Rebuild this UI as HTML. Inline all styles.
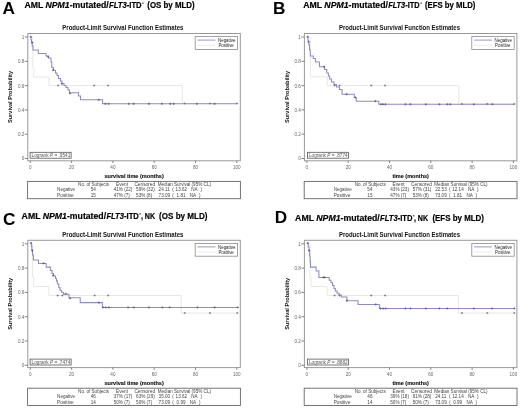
<!DOCTYPE html>
<html><head><meta charset="utf-8"><style>
html,body{margin:0;padding:0;background:#fff;}
svg{display:block;font-family:"Liberation Sans", sans-serif;will-change:transform;filter:blur(0.35px);}
</style></head><body>
<svg width="520" height="408" viewBox="0 0 520 408">
<rect width="520" height="408" fill="#fff"/>
<text x="2.6" y="14.1" font-size="17.2" font-weight="bold">A</text>
<text x="24.5" y="7.9" font-size="8.2" font-weight="bold" stroke="#000" stroke-width="0.18" textLength="84.2" lengthAdjust="spacingAndGlyphs">AML <tspan font-style="italic">NPM1</tspan>-mutated/</text>
<text x="109" y="7.9" font-size="8.2" font-weight="bold" stroke="#000" stroke-width="0.18" textLength="32.6" lengthAdjust="spacingAndGlyphs"><tspan font-style="italic">FLT3</tspan>-ITD</text>
<rect x="142.1" y="2.7" width="1.5" height="0.9" fill="#000"/>
<text x="147.3" y="7.9" font-size="8.2" font-weight="bold" stroke="#000" stroke-width="0.18" textLength="47.3" lengthAdjust="spacingAndGlyphs">(OS by MLD)</text>
<text x="272.9" y="13.7" font-size="17.2" font-weight="bold">B</text>
<text x="303.2" y="7.9" font-size="8.2" font-weight="bold" stroke="#000" stroke-width="0.18" textLength="84.7" lengthAdjust="spacingAndGlyphs">AML <tspan font-style="italic">NPM1</tspan>-mutated/</text>
<text x="388.2" y="7.9" font-size="8.2" font-weight="bold" stroke="#000" stroke-width="0.18" textLength="31.3" lengthAdjust="spacingAndGlyphs"><tspan font-style="italic">FLT3</tspan>-ITD</text>
<rect x="420.4" y="2.7" width="1.5" height="0.9" fill="#000"/>
<text x="425" y="7.9" font-size="8.2" font-weight="bold" stroke="#000" stroke-width="0.18" textLength="50.4" lengthAdjust="spacingAndGlyphs">(EFS by MLD)</text>
<text x="2.9" y="225.2" font-size="17.2" font-weight="bold">C</text>
<text x="21.6" y="218.7" font-size="8.2" font-weight="bold" stroke="#000" stroke-width="0.18" textLength="84.5" lengthAdjust="spacingAndGlyphs">AML <tspan font-style="italic">NPM1</tspan>-mutated/</text>
<text x="106.4" y="218.7" font-size="8.2" font-weight="bold" stroke="#000" stroke-width="0.18" textLength="32.4" lengthAdjust="spacingAndGlyphs"><tspan font-style="italic">FLT3</tspan>-ITD</text>
<rect x="139.3" y="213.5" width="1.5" height="0.9" fill="#000"/>
<text x="140.9" y="218.7" font-size="8.2" font-weight="bold" stroke="#000" stroke-width="0.18" textLength="14.3" lengthAdjust="spacingAndGlyphs">, NK</text>
<text x="159.1" y="218.7" font-size="8.2" font-weight="bold" stroke="#000" stroke-width="0.18" textLength="48.4" lengthAdjust="spacingAndGlyphs">(OS by MLD)</text>
<text x="274.65" y="223.2" font-size="17.2" font-weight="bold">D</text>
<text x="295.1" y="220.6" font-size="8.2" font-weight="bold" stroke="#000" stroke-width="0.18" textLength="84.7" lengthAdjust="spacingAndGlyphs">AML <tspan font-style="italic">NPM1</tspan>-mutated/</text>
<text x="380.1" y="220.6" font-size="8.2" font-weight="bold" stroke="#000" stroke-width="0.18" textLength="32.4" lengthAdjust="spacingAndGlyphs"><tspan font-style="italic">FLT3</tspan>-ITD</text>
<rect x="412.9" y="215.4" width="1.5" height="0.9" fill="#000"/>
<text x="413.9" y="220.6" font-size="8.2" font-weight="bold" stroke="#000" stroke-width="0.18" textLength="14.3" lengthAdjust="spacingAndGlyphs">, NK</text>
<text x="432.4" y="220.6" font-size="8.2" font-weight="bold" stroke="#000" stroke-width="0.18" textLength="51.6" lengthAdjust="spacingAndGlyphs">(EFS by MLD)</text>
<rect x="27.8" y="33.5" width="212.5" height="127.3" fill="none" stroke="#999" stroke-width="1"/>
<path d="M24.8 158.5H27.8" stroke="#666" stroke-width="0.8"/>
<text x="24.3" y="160.4" font-size="4.6" text-anchor="end" fill="#666" >0</text>
<path d="M24.8 134.2H27.8" stroke="#666" stroke-width="0.8"/>
<text x="24.3" y="136.1" font-size="4.6" text-anchor="end" fill="#666" >0.2</text>
<path d="M24.8 109.9H27.8" stroke="#666" stroke-width="0.8"/>
<text x="24.3" y="111.8" font-size="4.6" text-anchor="end" fill="#666" >0.4</text>
<path d="M24.8 85.6H27.8" stroke="#666" stroke-width="0.8"/>
<text x="24.3" y="87.5" font-size="4.6" text-anchor="end" fill="#666" >0.6</text>
<path d="M24.8 61.3H27.8" stroke="#666" stroke-width="0.8"/>
<text x="24.3" y="63.2" font-size="4.6" text-anchor="end" fill="#666" >0.8</text>
<path d="M24.8 37H27.8" stroke="#666" stroke-width="0.8"/>
<text x="24.3" y="38.9" font-size="4.6" text-anchor="end" fill="#666" >1</text>
<path d="M30.3 160.8V163" stroke="#666" stroke-width="0.8"/>
<text x="30.3" y="169.2" font-size="4.6" text-anchor="middle" fill="#666" >0</text>
<path d="M71.6 160.8V163" stroke="#666" stroke-width="0.8"/>
<text x="71.6" y="169.2" font-size="4.6" text-anchor="middle" fill="#666" >20</text>
<path d="M112.9 160.8V163" stroke="#666" stroke-width="0.8"/>
<text x="112.9" y="169.2" font-size="4.6" text-anchor="middle" fill="#666" >40</text>
<path d="M154.2 160.8V163" stroke="#666" stroke-width="0.8"/>
<text x="154.2" y="169.2" font-size="4.6" text-anchor="middle" fill="#666" >60</text>
<path d="M195.5 160.8V163" stroke="#666" stroke-width="0.8"/>
<text x="195.5" y="169.2" font-size="4.6" text-anchor="middle" fill="#666" >80</text>
<path d="M236.8 160.8V163" stroke="#666" stroke-width="0.8"/>
<text x="236.8" y="169.2" font-size="4.6" text-anchor="middle" fill="#666" >100</text>
<text transform="translate(12.1 97) rotate(-90)" x="0" y="0" font-size="5.6" font-weight="bold" text-anchor="middle" textLength="52" lengthAdjust="spacingAndGlyphs" fill="#111">Survival Probability</text>
<text x="134.1" y="178.3" font-size="6.2" font-weight="bold" text-anchor="middle" textLength="59.3" lengthAdjust="spacingAndGlyphs" fill="#111" stroke="#111" stroke-width="0.15">survival time (months)</text>
<text x="62.3" y="29.8" font-size="6.4" font-weight="bold" textLength="121.1" lengthAdjust="spacingAndGlyphs" fill="#111" >Product-Limit Survival Function Estimates</text>
<rect x="195.2" y="36.6" width="42.4" height="12.8" fill="#fff" stroke="#8a8a8a" stroke-width="0.8"/>
<path d="M197.5 40.1H215.4" stroke="#8c8cc2" stroke-width="0.9"/>
<path d="M197.5 45.2H215.4" stroke="#e8e8e4" stroke-width="0.9"/>
<text x="218" y="41.7" font-size="4.6" textLength="17.4" lengthAdjust="spacingAndGlyphs" fill="#222" >Negative</text>
<text x="218.4" y="47.1" font-size="4.6" textLength="15.4" lengthAdjust="spacingAndGlyphs" fill="#222" >Positive</text>
<path d="M30.5 37 L32.7 37 L32.7 68 L33.8 68 L33.8 77 L48.9 77 L48.9 85.5 L182.3 85.5 L182.3 103.5 L237 103.5" fill="none" stroke="#e8e8e4" stroke-width="1" />
<path d="M30.5 37 L31 37 L31 40 L31.5 40 L31.5 43 L32.2 43 L32.2 46 L33 46 L33 50 L38.3 50 L38.3 53.4 L46.1 53.4 L46.1 56 L48.5 56 L48.5 58 L51 58 L51 62 L51.8 62 L51.8 67.5 L53.5 67.5 L53.5 70.5 L55.5 70.5 L55.5 73 L57 73 L57 75.5 L58.5 75.5 L58.5 78.5 L60.5 78.5 L60.5 81 L62 81 L62 83.5 L64 83.5 L64 85.5 L66 85.5 L66 87.5 L68 87.5 L68 90 L69.5 90 L69.5 92.8 L78.5 92.8 L78.5 96 L80.5 96 L80.5 99.8 L102.6 99.8 L102.6 103.8 L237 103.8" fill="none" stroke="#8c8cc2" stroke-width="1.05" />
<path d="M57 85.5h2.2M58.1 84.4v2.2M93.1 85.5h2.2M94.2 84.4v2.2M107 85.5h2.2M108.1 84.4v2.2M183.5 103.5h2.2M184.6 102.4v2.2M208.9 103.5h2.2M210 102.4v2.2M235.9 103.5h2.2M237 102.4v2.2" stroke="#707070" stroke-width="0.7" fill="none"/>
<path d="M29.7 36.8h2.2M30.8 35.7v2.2M31.2 42.5h2.2M32.3 41.4v2.2M47 56.8h2.2M48.1 55.7v2.2M51.9 70h2.2M53 68.9v2.2M60.7 83.8h2.2M61.8 82.7v2.2M68.9 93.3h2.2M70 92.2v2.2M97.7 99.8h2.2M98.8 98.7v2.2M104.3 103.8h2.2M105.4 102.7v2.2M107.6 103.8h2.2M108.7 102.7v2.2M127.7 103.8h2.2M128.8 102.7v2.2M132.6 103.8h2.2M133.7 102.7v2.2M147.9 103.8h2.2M149 102.7v2.2M160.8 103.8h2.2M161.9 102.7v2.2M169.1 103.8h2.2M170.2 102.7v2.2M172.4 103.8h2.2M173.5 102.7v2.2M195.8 103.8h2.2M196.9 102.7v2.2M213.5 103.8h2.2M214.6 102.7v2.2" stroke="#50509a" stroke-width="0.7" fill="none"/>
<rect x="30.1" y="152.3" width="41" height="5.9" fill="#fff" stroke="#555" stroke-width="0.8"/>
<text x="31.5" y="156.9" font-size="4.6" textLength="38.8" lengthAdjust="spacingAndGlyphs" fill="#555">Logrank <tspan font-style="italic">P</tspan> = .9541</text>
<rect x="27.6" y="181.4" width="212.8" height="17.3" fill="none" stroke="#666" stroke-width="0.9"/>
<text x="78.1" y="185.9" font-size="4.6" textLength="31" lengthAdjust="spacingAndGlyphs" fill="#444" >No. of Subjects</text>
<text x="116" y="185.9" font-size="4.6" textLength="12" lengthAdjust="spacingAndGlyphs" fill="#444" >Event</text>
<text x="134.4" y="185.9" font-size="4.6" textLength="20.8" lengthAdjust="spacingAndGlyphs" fill="#444" >Censored</text>
<text x="157.7" y="185.9" font-size="4.6" textLength="53.3" lengthAdjust="spacingAndGlyphs" fill="#444" >Median Survival (95% CL)</text>
<text x="57.1" y="191.4" font-size="4.6" textLength="18" lengthAdjust="spacingAndGlyphs" fill="#444" >Negative</text>
<text x="93.3" y="191.4" font-size="4.6" text-anchor="middle" fill="#444" >54</text>
<text x="113.7" y="191.4" font-size="4.6" fill="#444" >41% (22)</text>
<text x="136.1" y="191.4" font-size="4.6" fill="#444" >59% (32)</text>
<text x="158.6" y="191.4" font-size="4.6" fill="#444" >24.11</text>
<text x="172.3" y="191.4" font-size="4.6" fill="#444" >(</text>
<text x="175.6" y="191.4" font-size="4.6" fill="#444" >13.62</text>
<text x="191.3" y="191.4" font-size="4.6" fill="#444" >NA</text>
<text x="200.5" y="191.4" font-size="4.6" fill="#444" >)</text>
<text x="57.1" y="196.7" font-size="4.6" textLength="16.6" lengthAdjust="spacingAndGlyphs" fill="#444" >Positive</text>
<text x="93.3" y="196.7" font-size="4.6" text-anchor="middle" fill="#444" >15</text>
<text x="113.7" y="196.7" font-size="4.6" fill="#444" >47% (7)</text>
<text x="136.1" y="196.7" font-size="4.6" fill="#444" >53% (8)</text>
<text x="158.6" y="196.7" font-size="4.6" fill="#444" >73.09</text>
<text x="172.3" y="196.7" font-size="4.6" fill="#444" >(</text>
<text x="176.6" y="196.7" font-size="4.6" fill="#444" >1.81</text>
<text x="189.8" y="196.7" font-size="4.6" fill="#444" >NA</text>
<text x="199" y="196.7" font-size="4.6" fill="#444" >)</text>
<rect x="304.4" y="33.5" width="212.5" height="127.3" fill="none" stroke="#999" stroke-width="1"/>
<path d="M301.4 158.5H304.4" stroke="#666" stroke-width="0.8"/>
<text x="300.9" y="160.4" font-size="4.6" text-anchor="end" fill="#666" >0</text>
<path d="M301.4 134.2H304.4" stroke="#666" stroke-width="0.8"/>
<text x="300.9" y="136.1" font-size="4.6" text-anchor="end" fill="#666" >0.2</text>
<path d="M301.4 109.9H304.4" stroke="#666" stroke-width="0.8"/>
<text x="300.9" y="111.8" font-size="4.6" text-anchor="end" fill="#666" >0.4</text>
<path d="M301.4 85.6H304.4" stroke="#666" stroke-width="0.8"/>
<text x="300.9" y="87.5" font-size="4.6" text-anchor="end" fill="#666" >0.6</text>
<path d="M301.4 61.3H304.4" stroke="#666" stroke-width="0.8"/>
<text x="300.9" y="63.2" font-size="4.6" text-anchor="end" fill="#666" >0.8</text>
<path d="M301.4 37H304.4" stroke="#666" stroke-width="0.8"/>
<text x="300.9" y="38.9" font-size="4.6" text-anchor="end" fill="#666" >1</text>
<path d="M306.9 160.8V163" stroke="#666" stroke-width="0.8"/>
<text x="306.9" y="169.2" font-size="4.6" text-anchor="middle" fill="#666" >0</text>
<path d="M348.2 160.8V163" stroke="#666" stroke-width="0.8"/>
<text x="348.2" y="169.2" font-size="4.6" text-anchor="middle" fill="#666" >20</text>
<path d="M389.5 160.8V163" stroke="#666" stroke-width="0.8"/>
<text x="389.5" y="169.2" font-size="4.6" text-anchor="middle" fill="#666" >40</text>
<path d="M430.8 160.8V163" stroke="#666" stroke-width="0.8"/>
<text x="430.8" y="169.2" font-size="4.6" text-anchor="middle" fill="#666" >60</text>
<path d="M472.1 160.8V163" stroke="#666" stroke-width="0.8"/>
<text x="472.1" y="169.2" font-size="4.6" text-anchor="middle" fill="#666" >80</text>
<path d="M513.4 160.8V163" stroke="#666" stroke-width="0.8"/>
<text x="513.4" y="169.2" font-size="4.6" text-anchor="middle" fill="#666" >100</text>
<text transform="translate(288.7 97) rotate(-90)" x="0" y="0" font-size="5.6" font-weight="bold" text-anchor="middle" textLength="52" lengthAdjust="spacingAndGlyphs" fill="#111">Survival Probability</text>
<text x="410.7" y="178.3" font-size="6.2" font-weight="bold" text-anchor="middle" textLength="36.5" lengthAdjust="spacingAndGlyphs" fill="#111" stroke="#111" stroke-width="0.15">time (months)</text>
<text x="338.9" y="29.8" font-size="6.4" font-weight="bold" textLength="121.1" lengthAdjust="spacingAndGlyphs" fill="#111" >Product-Limit Survival Function Estimates</text>
<rect x="471.8" y="36.6" width="42.4" height="12.8" fill="#fff" stroke="#8a8a8a" stroke-width="0.8"/>
<path d="M474.1 40.1H492" stroke="#8c8cc2" stroke-width="0.9"/>
<path d="M474.1 45.2H492" stroke="#e8e8e4" stroke-width="0.9"/>
<text x="494.6" y="41.7" font-size="4.6" textLength="17.4" lengthAdjust="spacingAndGlyphs" fill="#222" >Negative</text>
<text x="495" y="47.1" font-size="4.6" textLength="15.4" lengthAdjust="spacingAndGlyphs" fill="#222" >Positive</text>
<path d="M307.3 37 L310.3 37 L310.3 76.8 L327.3 76.8 L327.3 85.5 L458.9 85.5 L458.9 104 L514.3 104" fill="none" stroke="#e8e8e4" stroke-width="1" />
<path d="M307.5 37 L308 37 L308 41 L308.8 41 L308.8 45 L309.5 45 L309.5 50 L310.3 50 L310.3 56 L313.3 56 L313.3 58.5 L315.6 58.5 L315.6 62 L319.5 62 L319.5 66.8 L324.6 66.8 L324.6 69.5 L326.8 69.5 L326.8 73 L328.4 73 L328.4 76 L329.6 76 L329.6 79 L331.5 79 L331.5 82 L334 82 L334 84.5 L336.5 84.5 L336.5 87 L339.5 87 L339.5 89.5 L342 89.5 L342 94.2 L354.3 94.2 L354.3 97.5 L356.2 97.5 L356.2 101.2 L378.8 101.2 L378.8 104.3 L514.3 104.3" fill="none" stroke="#8c8cc2" stroke-width="1.05" />
<path d="M333.5 85.5h2.2M334.6 84.4v2.2M338.4 85.5h2.2M339.5 84.4v2.2M370.1 85.5h2.2M371.2 84.4v2.2M383.9 85.5h2.2M385 84.4v2.2M460.8 104h2.2M461.9 102.9v2.2M486.2 104h2.2M487.3 102.9v2.2M513.2 104h2.2M514.3 102.9v2.2" stroke="#707070" stroke-width="0.7" fill="none"/>
<path d="M306.5 36.8h2.2M307.6 35.7v2.2M307.5 42h2.2M308.6 40.9v2.2M322.9 66.8h2.2M324 65.7v2.2M345.5 94.2h2.2M346.6 93.1v2.2M354.3 97.5h2.2M355.4 96.4v2.2M374.3 101.2h2.2M375.4 100.1v2.2M379.7 104.3h2.2M380.8 103.2v2.2M381.9 104.3h2.2M383 103.2v2.2M384.3 104.3h2.2M385.4 103.2v2.2M404.3 104.3h2.2M405.4 103.2v2.2M409.3 104.3h2.2M410.4 103.2v2.2M424.8 104.3h2.2M425.9 103.2v2.2M438.2 104.3h2.2M439.3 103.2v2.2M446.2 104.3h2.2M447.3 103.2v2.2M449.2 104.3h2.2M450.3 103.2v2.2M472.8 104.3h2.2M473.9 103.2v2.2M491.3 104.3h2.2M492.4 103.2v2.2" stroke="#50509a" stroke-width="0.7" fill="none"/>
<rect x="307.5" y="152.3" width="41" height="5.9" fill="#fff" stroke="#555" stroke-width="0.8"/>
<text x="308.9" y="156.9" font-size="4.6" textLength="38.8" lengthAdjust="spacingAndGlyphs" fill="#555">Logrank <tspan font-style="italic">P</tspan> = .8774</text>
<rect x="304.2" y="181.4" width="212.8" height="17.3" fill="none" stroke="#666" stroke-width="0.9"/>
<text x="354.7" y="185.9" font-size="4.6" textLength="31" lengthAdjust="spacingAndGlyphs" fill="#444" >No. of Subjects</text>
<text x="392.6" y="185.9" font-size="4.6" textLength="12" lengthAdjust="spacingAndGlyphs" fill="#444" >Event</text>
<text x="411" y="185.9" font-size="4.6" textLength="20.8" lengthAdjust="spacingAndGlyphs" fill="#444" >Censored</text>
<text x="434.3" y="185.9" font-size="4.6" textLength="53.3" lengthAdjust="spacingAndGlyphs" fill="#444" >Median Survival (95% CL)</text>
<text x="333.7" y="191.4" font-size="4.6" textLength="18" lengthAdjust="spacingAndGlyphs" fill="#444" >Negative</text>
<text x="369.9" y="191.4" font-size="4.6" text-anchor="middle" fill="#444" >54</text>
<text x="390.3" y="191.4" font-size="4.6" fill="#444" >43% (23)</text>
<text x="412.7" y="191.4" font-size="4.6" fill="#444" >57% (31)</text>
<text x="435.2" y="191.4" font-size="4.6" fill="#444" >22.53</text>
<text x="448.9" y="191.4" font-size="4.6" fill="#444" >(</text>
<text x="452.2" y="191.4" font-size="4.6" fill="#444" >12.14</text>
<text x="467.9" y="191.4" font-size="4.6" fill="#444" >NA</text>
<text x="477.1" y="191.4" font-size="4.6" fill="#444" >)</text>
<text x="333.7" y="196.7" font-size="4.6" textLength="16.6" lengthAdjust="spacingAndGlyphs" fill="#444" >Positive</text>
<text x="369.9" y="196.7" font-size="4.6" text-anchor="middle" fill="#444" >15</text>
<text x="390.3" y="196.7" font-size="4.6" fill="#444" >47% (7)</text>
<text x="412.7" y="196.7" font-size="4.6" fill="#444" >53% (8)</text>
<text x="435.2" y="196.7" font-size="4.6" fill="#444" >73.09</text>
<text x="448.9" y="196.7" font-size="4.6" fill="#444" >(</text>
<text x="453.2" y="196.7" font-size="4.6" fill="#444" >1.81</text>
<text x="466.4" y="196.7" font-size="4.6" fill="#444" >NA</text>
<text x="475.6" y="196.7" font-size="4.6" fill="#444" >)</text>
<rect x="27.8" y="240.3" width="212.5" height="127.3" fill="none" stroke="#999" stroke-width="1"/>
<path d="M24.8 365.3H27.8" stroke="#666" stroke-width="0.8"/>
<text x="24.3" y="367.2" font-size="4.6" text-anchor="end" fill="#666" >0</text>
<path d="M24.8 341H27.8" stroke="#666" stroke-width="0.8"/>
<text x="24.3" y="342.9" font-size="4.6" text-anchor="end" fill="#666" >0.2</text>
<path d="M24.8 316.7H27.8" stroke="#666" stroke-width="0.8"/>
<text x="24.3" y="318.6" font-size="4.6" text-anchor="end" fill="#666" >0.4</text>
<path d="M24.8 292.4H27.8" stroke="#666" stroke-width="0.8"/>
<text x="24.3" y="294.3" font-size="4.6" text-anchor="end" fill="#666" >0.6</text>
<path d="M24.8 268.1H27.8" stroke="#666" stroke-width="0.8"/>
<text x="24.3" y="270" font-size="4.6" text-anchor="end" fill="#666" >0.8</text>
<path d="M24.8 243.8H27.8" stroke="#666" stroke-width="0.8"/>
<text x="24.3" y="245.7" font-size="4.6" text-anchor="end" fill="#666" >1</text>
<path d="M30.3 367.6V369.8" stroke="#666" stroke-width="0.8"/>
<text x="30.3" y="376" font-size="4.6" text-anchor="middle" fill="#666" >0</text>
<path d="M71.6 367.6V369.8" stroke="#666" stroke-width="0.8"/>
<text x="71.6" y="376" font-size="4.6" text-anchor="middle" fill="#666" >20</text>
<path d="M112.9 367.6V369.8" stroke="#666" stroke-width="0.8"/>
<text x="112.9" y="376" font-size="4.6" text-anchor="middle" fill="#666" >40</text>
<path d="M154.2 367.6V369.8" stroke="#666" stroke-width="0.8"/>
<text x="154.2" y="376" font-size="4.6" text-anchor="middle" fill="#666" >60</text>
<path d="M195.5 367.6V369.8" stroke="#666" stroke-width="0.8"/>
<text x="195.5" y="376" font-size="4.6" text-anchor="middle" fill="#666" >80</text>
<path d="M236.8 367.6V369.8" stroke="#666" stroke-width="0.8"/>
<text x="236.8" y="376" font-size="4.6" text-anchor="middle" fill="#666" >100</text>
<text transform="translate(12.1 303.8) rotate(-90)" x="0" y="0" font-size="5.6" font-weight="bold" text-anchor="middle" textLength="52" lengthAdjust="spacingAndGlyphs" fill="#111">Survival Probability</text>
<text x="134.1" y="385.1" font-size="6.2" font-weight="bold" text-anchor="middle" textLength="59.3" lengthAdjust="spacingAndGlyphs" fill="#111" stroke="#111" stroke-width="0.15">survival time (months)</text>
<text x="62.3" y="236.6" font-size="6.4" font-weight="bold" textLength="121.1" lengthAdjust="spacingAndGlyphs" fill="#111" >Product-Limit Survival Function Estimates</text>
<rect x="195.2" y="243.4" width="42.4" height="12.8" fill="#fff" stroke="#8a8a8a" stroke-width="0.8"/>
<path d="M197.5 246.9H215.4" stroke="#8c8cc2" stroke-width="0.9"/>
<path d="M197.5 252H215.4" stroke="#e8e8e4" stroke-width="0.9"/>
<text x="218" y="248.5" font-size="4.6" textLength="17.4" lengthAdjust="spacingAndGlyphs" fill="#222" >Negative</text>
<text x="218.4" y="253.9" font-size="4.6" textLength="15.4" lengthAdjust="spacingAndGlyphs" fill="#222" >Positive</text>
<path d="M30.9 243.4 L32.5 243.4 L32.5 277 L33.7 277 L33.7 286.5 L48.8 286.5 L48.8 295.5 L181.2 295.5 L181.2 313 L237.8 313" fill="none" stroke="#e8e8e4" stroke-width="1" />
<path d="M30.9 243 L31.3 243 L31.3 246 L31.8 246 L31.8 250 L32.5 250 L32.5 255 L33.4 255 L33.4 260 L38.4 260 L38.4 263.4 L46.2 263.4 L46.2 267.1 L50.4 267.1 L50.4 270.5 L52 270.5 L52 273.5 L53.5 273.5 L53.5 276 L55.5 276 L55.5 278.5 L56.5 278.5 L56.5 281.1 L57.4 281.1 L57.4 284 L58.8 284 L58.8 287.6 L60 287.6 L60 290.4 L61.5 290.4 L61.5 292.3 L63.5 292.3 L63.5 294.2 L69 294.2 L69 297.8 L80.2 297.8 L80.2 302.6 L102.4 302.6 L102.4 307.4 L237.8 307.4" fill="none" stroke="#8c8cc2" stroke-width="1.05" />
<path d="M56.6 295.5h2.2M57.7 294.4v2.2M61.2 295.5h2.2M62.3 294.4v2.2M93.5 295.5h2.2M94.6 294.4v2.2M107.1 295.5h2.2M108.2 294.4v2.2M183.6 313h2.2M184.7 311.9v2.2M208.9 313h2.2M210 311.9v2.2M236.2 313h2.2M237.3 311.9v2.2" stroke="#707070" stroke-width="0.7" fill="none"/>
<path d="M29.8 243h2.2M30.9 241.9v2.2M31.2 250.5h2.2M32.3 249.4v2.2M42.5 263.3h2.2M43.6 262.2v2.2M52.1 275.5h2.2M53.2 274.4v2.2M64.6 293.8h2.2M65.7 292.7v2.2M68.9 298.2h2.2M70 297.1v2.2M97.8 302.6h2.2M98.9 301.5v2.2M102 307.4h2.2M103.1 306.3v2.2M104.6 307.4h2.2M105.7 306.3v2.2M107.7 307.4h2.2M108.8 306.3v2.2M127 307.4h2.2M128.1 306.3v2.2M132.8 307.4h2.2M133.9 306.3v2.2M147.8 307.4h2.2M148.9 306.3v2.2M161.2 307.4h2.2M162.3 306.3v2.2M168.6 307.4h2.2M169.7 306.3v2.2M196.3 307.4h2.2M197.4 306.3v2.2M213.6 307.4h2.2M214.7 306.3v2.2M236.7 307.4h2.2M237.8 306.3v2.2" stroke="#50509a" stroke-width="0.7" fill="none"/>
<rect x="30.1" y="359.1" width="41" height="5.9" fill="#fff" stroke="#555" stroke-width="0.8"/>
<text x="31.5" y="363.7" font-size="4.6" textLength="38.8" lengthAdjust="spacingAndGlyphs" fill="#555">Logrank <tspan font-style="italic">P</tspan> = .7474</text>
<rect x="27.6" y="388.2" width="212.8" height="17.3" fill="none" stroke="#666" stroke-width="0.9"/>
<text x="78.1" y="392.7" font-size="4.6" textLength="31" lengthAdjust="spacingAndGlyphs" fill="#444" >No. of Subjects</text>
<text x="116" y="392.7" font-size="4.6" textLength="12" lengthAdjust="spacingAndGlyphs" fill="#444" >Event</text>
<text x="134.4" y="392.7" font-size="4.6" textLength="20.8" lengthAdjust="spacingAndGlyphs" fill="#444" >Censored</text>
<text x="157.7" y="392.7" font-size="4.6" textLength="53.3" lengthAdjust="spacingAndGlyphs" fill="#444" >Median Survival (95% CL)</text>
<text x="57.1" y="398.2" font-size="4.6" textLength="18" lengthAdjust="spacingAndGlyphs" fill="#444" >Negative</text>
<text x="93.3" y="398.2" font-size="4.6" text-anchor="middle" fill="#444" >46</text>
<text x="113.7" y="398.2" font-size="4.6" fill="#444" >37% (17)</text>
<text x="136.1" y="398.2" font-size="4.6" fill="#444" >63% (29)</text>
<text x="158.6" y="398.2" font-size="4.6" fill="#444" >35.00</text>
<text x="172.3" y="398.2" font-size="4.6" fill="#444" >(</text>
<text x="175.6" y="398.2" font-size="4.6" fill="#444" >13.62</text>
<text x="191.3" y="398.2" font-size="4.6" fill="#444" >NA</text>
<text x="200.5" y="398.2" font-size="4.6" fill="#444" >)</text>
<text x="57.1" y="403.5" font-size="4.6" textLength="16.6" lengthAdjust="spacingAndGlyphs" fill="#444" >Positive</text>
<text x="93.3" y="403.5" font-size="4.6" text-anchor="middle" fill="#444" >14</text>
<text x="113.7" y="403.5" font-size="4.6" fill="#444" >50% (7)</text>
<text x="136.1" y="403.5" font-size="4.6" fill="#444" >50% (7)</text>
<text x="158.6" y="403.5" font-size="4.6" fill="#444" >73.09</text>
<text x="172.3" y="403.5" font-size="4.6" fill="#444" >(</text>
<text x="176.6" y="403.5" font-size="4.6" fill="#444" >0.99</text>
<text x="189.8" y="403.5" font-size="4.6" fill="#444" >NA</text>
<text x="199" y="403.5" font-size="4.6" fill="#444" >)</text>
<rect x="304.4" y="240.3" width="212.5" height="127.3" fill="none" stroke="#999" stroke-width="1"/>
<path d="M301.4 365.3H304.4" stroke="#666" stroke-width="0.8"/>
<text x="300.9" y="367.2" font-size="4.6" text-anchor="end" fill="#666" >0</text>
<path d="M301.4 341H304.4" stroke="#666" stroke-width="0.8"/>
<text x="300.9" y="342.9" font-size="4.6" text-anchor="end" fill="#666" >0.2</text>
<path d="M301.4 316.7H304.4" stroke="#666" stroke-width="0.8"/>
<text x="300.9" y="318.6" font-size="4.6" text-anchor="end" fill="#666" >0.4</text>
<path d="M301.4 292.4H304.4" stroke="#666" stroke-width="0.8"/>
<text x="300.9" y="294.3" font-size="4.6" text-anchor="end" fill="#666" >0.6</text>
<path d="M301.4 268.1H304.4" stroke="#666" stroke-width="0.8"/>
<text x="300.9" y="270" font-size="4.6" text-anchor="end" fill="#666" >0.8</text>
<path d="M301.4 243.8H304.4" stroke="#666" stroke-width="0.8"/>
<text x="300.9" y="245.7" font-size="4.6" text-anchor="end" fill="#666" >1</text>
<path d="M306.9 367.6V369.8" stroke="#666" stroke-width="0.8"/>
<text x="306.9" y="376" font-size="4.6" text-anchor="middle" fill="#666" >0</text>
<path d="M348.2 367.6V369.8" stroke="#666" stroke-width="0.8"/>
<text x="348.2" y="376" font-size="4.6" text-anchor="middle" fill="#666" >20</text>
<path d="M389.5 367.6V369.8" stroke="#666" stroke-width="0.8"/>
<text x="389.5" y="376" font-size="4.6" text-anchor="middle" fill="#666" >40</text>
<path d="M430.8 367.6V369.8" stroke="#666" stroke-width="0.8"/>
<text x="430.8" y="376" font-size="4.6" text-anchor="middle" fill="#666" >60</text>
<path d="M472.1 367.6V369.8" stroke="#666" stroke-width="0.8"/>
<text x="472.1" y="376" font-size="4.6" text-anchor="middle" fill="#666" >80</text>
<path d="M513.4 367.6V369.8" stroke="#666" stroke-width="0.8"/>
<text x="513.4" y="376" font-size="4.6" text-anchor="middle" fill="#666" >100</text>
<text transform="translate(288.7 303.8) rotate(-90)" x="0" y="0" font-size="5.6" font-weight="bold" text-anchor="middle" textLength="52" lengthAdjust="spacingAndGlyphs" fill="#111">Survival Probability</text>
<text x="410.7" y="385.1" font-size="6.2" font-weight="bold" text-anchor="middle" textLength="36.5" lengthAdjust="spacingAndGlyphs" fill="#111" stroke="#111" stroke-width="0.15">time (months)</text>
<text x="338.9" y="236.6" font-size="6.4" font-weight="bold" textLength="121.1" lengthAdjust="spacingAndGlyphs" fill="#111" >Product-Limit Survival Function Estimates</text>
<rect x="471.8" y="243.4" width="42.4" height="12.8" fill="#fff" stroke="#8a8a8a" stroke-width="0.8"/>
<path d="M474.1 246.9H492" stroke="#8c8cc2" stroke-width="0.9"/>
<path d="M474.1 252H492" stroke="#e8e8e4" stroke-width="0.9"/>
<text x="494.6" y="248.5" font-size="4.6" textLength="17.4" lengthAdjust="spacingAndGlyphs" fill="#222" >Negative</text>
<text x="495" y="253.9" font-size="4.6" textLength="15.4" lengthAdjust="spacingAndGlyphs" fill="#222" >Positive</text>
<path d="M307.6 243.4 L310 243.4 L310 277 L311 277 L311 286.5 L327.2 286.5 L327.2 295.5 L458.4 295.5 L458.4 313 L514.3 313" fill="none" stroke="#e8e8e4" stroke-width="1" />
<path d="M307.6 243.2 L308.2 243.2 L308.2 247 L309 247 L309 251 L309.6 251 L309.6 256 L310.1 256 L310.1 261 L310.5 261 L310.5 267.1 L316.1 267.1 L316.1 270.9 L318.9 270.9 L318.9 277.4 L329.2 277.4 L329.2 280.2 L331 280.2 L331 282.5 L332.5 282.5 L332.5 285.5 L334 285.5 L334 288.5 L335.3 288.5 L335.3 291 L337 291 L337 293.2 L339 293.2 L339 295 L341.3 295 L341.3 297 L346.9 297 L346.9 300.7 L358.1 300.7 L358.1 304.4 L379.4 304.4 L379.4 308.5 L514.3 308.5" fill="none" stroke="#8c8cc2" stroke-width="1.05" />
<path d="M333.5 295.5h2.2M334.6 294.4v2.2M338.4 295.5h2.2M339.5 294.4v2.2M370.1 295.5h2.2M371.2 294.4v2.2M384 295.5h2.2M385.1 294.4v2.2M460.8 313h2.2M461.9 311.9v2.2M486.2 313h2.2M487.3 311.9v2.2M513.2 313h2.2M514.3 311.9v2.2" stroke="#707070" stroke-width="0.7" fill="none"/>
<path d="M306.5 243.1h2.2M307.6 242v2.2M308 250.5h2.2M309.1 249.4v2.2M322.2 277.4h2.2M323.3 276.3v2.2M323.7 277.4h2.2M324.8 276.3v2.2M345.8 300.7h2.2M346.9 299.6v2.2M374.7 304.4h2.2M375.8 303.3v2.2M379.4 308.5h2.2M380.5 307.4v2.2M382 308.5h2.2M383.1 307.4v2.2M384.6 308.5h2.2M385.7 307.4v2.2M404.3 308.5h2.2M405.4 307.4v2.2M409.3 308.5h2.2M410.4 307.4v2.2M424.8 308.5h2.2M425.9 307.4v2.2M438.2 308.5h2.2M439.3 307.4v2.2M446.2 308.5h2.2M447.3 307.4v2.2M472.8 308.5h2.2M473.9 307.4v2.2M490.8 308.5h2.2M491.9 307.4v2.2M513.2 308.5h2.2M514.3 307.4v2.2" stroke="#50509a" stroke-width="0.7" fill="none"/>
<rect x="307.5" y="359.1" width="41" height="5.9" fill="#fff" stroke="#555" stroke-width="0.8"/>
<text x="308.9" y="363.7" font-size="4.6" textLength="38.8" lengthAdjust="spacingAndGlyphs" fill="#555">Logrank <tspan font-style="italic">P</tspan> = .8882</text>
<rect x="304.2" y="388.2" width="212.8" height="17.3" fill="none" stroke="#666" stroke-width="0.9"/>
<text x="354.7" y="392.7" font-size="4.6" textLength="31" lengthAdjust="spacingAndGlyphs" fill="#444" >No. of Subjects</text>
<text x="392.6" y="392.7" font-size="4.6" textLength="12" lengthAdjust="spacingAndGlyphs" fill="#444" >Event</text>
<text x="411" y="392.7" font-size="4.6" textLength="20.8" lengthAdjust="spacingAndGlyphs" fill="#444" >Censored</text>
<text x="434.3" y="392.7" font-size="4.6" textLength="53.3" lengthAdjust="spacingAndGlyphs" fill="#444" >Median Survival (95% CL)</text>
<text x="333.7" y="398.2" font-size="4.6" textLength="18" lengthAdjust="spacingAndGlyphs" fill="#444" >Negative</text>
<text x="369.9" y="398.2" font-size="4.6" text-anchor="middle" fill="#444" >46</text>
<text x="390.3" y="398.2" font-size="4.6" fill="#444" >39% (18)</text>
<text x="412.7" y="398.2" font-size="4.6" fill="#444" >61% (28)</text>
<text x="435.2" y="398.2" font-size="4.6" fill="#444" >24.11</text>
<text x="448.9" y="398.2" font-size="4.6" fill="#444" >(</text>
<text x="452.2" y="398.2" font-size="4.6" fill="#444" >12.14</text>
<text x="467.9" y="398.2" font-size="4.6" fill="#444" >NA</text>
<text x="477.1" y="398.2" font-size="4.6" fill="#444" >)</text>
<text x="333.7" y="403.5" font-size="4.6" textLength="16.6" lengthAdjust="spacingAndGlyphs" fill="#444" >Positive</text>
<text x="369.9" y="403.5" font-size="4.6" text-anchor="middle" fill="#444" >14</text>
<text x="390.3" y="403.5" font-size="4.6" fill="#444" >50% (7)</text>
<text x="412.7" y="403.5" font-size="4.6" fill="#444" >50% (7)</text>
<text x="435.2" y="403.5" font-size="4.6" fill="#444" >73.09</text>
<text x="448.9" y="403.5" font-size="4.6" fill="#444" >(</text>
<text x="453.2" y="403.5" font-size="4.6" fill="#444" >0.99</text>
<text x="466.4" y="403.5" font-size="4.6" fill="#444" >NA</text>
<text x="475.6" y="403.5" font-size="4.6" fill="#444" >)</text>
</svg>
</body></html>
